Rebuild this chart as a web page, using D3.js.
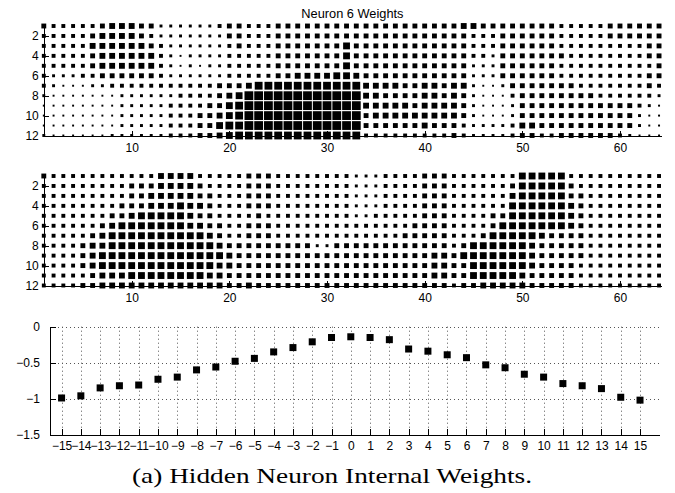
<!DOCTYPE html>
<html><head><meta charset="utf-8">
<script src="https://cdn.jsdelivr.net/npm/d3@7"></script>
<style>
body{margin:0;background:#fff;}
svg{display:block;}
</style></head><body>
<svg id="chart" width="675" height="493"></svg>
<script>
// ---------------- data ----------------
const chartTitle = "Neuron 6 Weights";
const captionText = "(a) Hidden Neuron Internal Weights.";
const hintonXTicks = [10, 20, 30, 40, 50, 60];
const hintonYTicks = [2, 4, 6, 8, 10, 12];
// weight magnitude per cell (0-9), one string per row (row 1 on top), 64 columns
const topWeights = [
  "544444566655333333455" + "444555555555555555555" + "5665555555544444555555",
  "444445666654333333355" + "444555555555555555555" + "5544455555544444555555",
  "444446666665433333345" + "444555555575555555555" + "5544455555544444444455",
  "444445666666432333344" + "444555555575555555555" + "5544355555554444444455",
  "444445666666432323344" + "444555555575555555555" + "5533355555544444444445",
  "433344555555433333344" + "444556666776555555555" + "5533355555544444444455",
  "432223344444444444555" + "688888888888666655665" + "6632235555555444444454",
  "322222223333334444567" + "999999999999665555665" + "6532224555555554444443",
  "222222223333344445578" + "999999999999666665666" + "6532223555555555555432",
  "222222223333344455678" + "999999999999566666666" + "6532223555555555555322",
  "222222223333344455788" + "999999999999555555655" + "5433334665555555555322",
  "322222233333344455678" + "888888888888444444444" + "5433334554455555543222"
];
const bottomWeights = [
  "544444444444666644444" + "555444444443334444555" + "4444444777774444444444",
  "444444444555666654444" + "555444444443334444555" + "4444445777775444444444",
  "444444444556666655444" + "555444444443334444555" + "4444446777775544444444",
  "444444445556667665444" + "555444444443334444555" + "4444447777776544444444",
  "444444455677777655444" + "454444444443344444555" + "4444557777776544444444",
  "444444567777777665544" + "555444444444444445555" + "4444577777776544444444",
  "444445677777777776544" + "555444444444444455555" + "4445777776555544444444",
  "444456677777777777655" + "555555533555555555555" + "4577777765555544444444",
  "444456777777777777765" + "555555555555555555566" + "5777777765555544444444",
  "444456777777777777665" + "555555555555555555566" + "5577777765555444444444",
  "444445666777777776655" + "555555555555555555566" + "5577777655555444444444",
  "444455666666666666655" + "655555555555555555555" + "4556666655555444444444"
];
const lags = [-15,-14,-13,-12,-11,-10,-9,-8,-7,-6,-5,-4,-3,-2,-1,0,1,2,3,4,5,6,7,8,9,10,11,12,13,14,15];
const lagWeights = [-0.99,-0.96,-0.85,-0.82,-0.81,-0.73,-0.70,-0.60,-0.56,-0.48,-0.44,-0.35,-0.29,-0.21,-0.15,
                    -0.14,-0.15,-0.18,-0.31,-0.34,-0.39,-0.43,-0.53,-0.57,-0.66,-0.70,-0.79,-0.82,-0.86,-0.98,-1.02];
const scatterYTicks = [0, -0.5, -1, -1.5];

// ---------------- drawing ----------------
const svg = d3.select("#chart");
const FONT = "'Liberation Sans', Arial, Helvetica, sans-serif";

function styleAxis(g) {
  g.selectAll("path.domain").attr("stroke", "#000").attr("stroke-width", 1).attr("shape-rendering", "crispEdges");
  g.selectAll(".tick line").attr("stroke", "#000").attr("shape-rendering", "crispEdges");
  g.selectAll(".tick text").attr("font-family", FONT).attr("font-size", 12).attr("fill", "#000");
}

function drawHinton(rows, yTop, yBottom) {
  const x = d3.scaleLinear().domain([1, 64.2]).range([43.8, 661]);
  const y = d3.scaleLinear().domain([1, 12]).range([yTop, yBottom]);
  const cell = x(2) - x(1);
  const size = d3.scaleLinear().domain([0, 10]).range([0, cell]);
  const cells = [];
  rows.forEach((str, r) => str.split("").forEach((ch, c) => cells.push({row: r + 1, col: c + 1, w: +ch})));
  const g = svg.append("g");
  g.selectAll("rect").data(cells).join("rect")
    .attr("x", d => x(d.col) - size(d.w) / 2)
    .attr("y", d => y(d.row) - size(d.w) / 2)
    .attr("width", d => size(d.w))
    .attr("height", d => size(d.w))
    .attr("fill", "#000");
  const xa = g.append("g").attr("transform", `translate(0,${y(12)})`)
    .call(d3.axisBottom(x).tickValues(hintonXTicks).tickSizeInner(-5).tickSizeOuter(0).tickPadding(8));
  styleAxis(xa);
  const ya = g.append("g").attr("transform", `translate(${x(1)},0)`)
    .call(d3.axisLeft(y).tickValues(hintonYTicks).tickSizeInner(-5).tickSizeOuter(0).tickPadding(5));
  styleAxis(ya);
  return x;
}

const xTop = drawHinton(topWeights, 26, 135.5);
drawHinton(bottomWeights, 176, 285.5);

svg.append("text")
  .attr("x", (xTop(1) + xTop(64.2)) / 2).attr("y", 17.5)
  .attr("text-anchor", "middle").attr("font-family", FONT).attr("font-size", 12.8)
  .text(chartTitle);

// scatter panel
const xs = d3.scaleLinear().domain([-15.6, 16]).range([50, 659.3]);
const ys = d3.scaleLinear().domain([-1.5, 0]).range([434.7, 326.7]);
const gs = svg.append("g");
// dotted grid
gs.selectAll("line.vg").data(lags).join("line").attr("class", "vg")
  .attr("x1", d => Math.round(xs(d)) + 0.5).attr("x2", d => Math.round(xs(d)) + 0.5)
  .attr("y1", ys(0)).attr("y2", ys(-1.5))
  .attr("stroke", "#555").attr("stroke-width", 1).attr("stroke-dasharray", "1,3");
gs.selectAll("line.hg").data(scatterYTicks.filter(v => v > -1.5)).join("line").attr("class", "hg")
  .attr("x1", xs.range()[0]).attr("x2", xs.range()[1])
  .attr("y1", d => Math.round(ys(d)) + 0.5).attr("y2", d => Math.round(ys(d)) + 0.5)
  .attr("stroke", "#555").attr("stroke-width", 1).attr("stroke-dasharray", "1,3");
const xsa = gs.append("g").attr("transform", `translate(0,${ys(-1.5)})`)
  .call(d3.axisBottom(xs).tickValues(lags).tickFormat(d3.format("d")).tickSizeInner(-6).tickSizeOuter(0).tickPadding(7));
styleAxis(xsa);
const ysa = gs.append("g").attr("transform", `translate(${xs(-15.6)},0)`)
  .call(d3.axisLeft(ys).tickValues(scatterYTicks).tickFormat(d3.format("~g")).tickSizeInner(-6).tickSizeOuter(0).tickPadding(10));
styleAxis(ysa);
const ms = 7;
gs.selectAll("rect.pt").data(lags.map((l, i) => ({l, v: lagWeights[i]}))).join("rect").attr("class", "pt")
  .attr("x", d => xs(d.l) - ms / 2).attr("y", d => ys(d.v) - ms / 2)
  .attr("width", ms).attr("height", ms).attr("fill", "#000");

// caption
svg.append("text")
  .attr("x", 132).attr("y", 483)
  .attr("font-family", "'Liberation Serif', 'DejaVu Serif', serif").attr("font-size", 22)
  .attr("textLength", 400).attr("lengthAdjust", "spacingAndGlyphs")
  .text(captionText);
</script>
</body></html>
